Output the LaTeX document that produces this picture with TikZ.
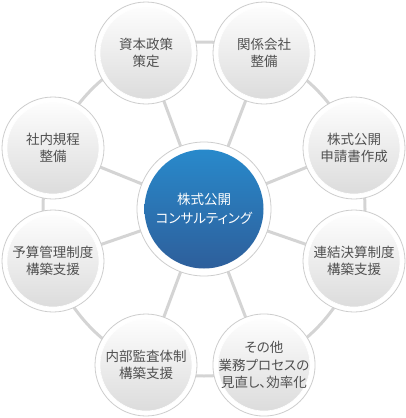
\documentclass[tikz,border=0pt]{standalone}
\usepackage{fontspec}
\setmainfont[RawFeature=+palt]{Noto Sans CJK JP}
\usetikzlibrary{backgrounds}
\definecolor{linegray}{RGB}{212,212,212}
\definecolor{ringgray}{RGB}{205,205,205}
\definecolor{discgray}{RGB}{218,218,218}
\definecolor{textgray}{RGB}{80,80,80}
\definecolor{blueTop}{RGB}{40,140,206}
\definecolor{blueBot}{RGB}{46,92,152}
\tikzset{
  outer/.style={circle, minimum size=102pt, inner sep=0pt, fill=white,
    draw=ringgray, line width=0.8pt, text=textgray, align=center,
    font=\fontsize{13.5}{17.5}\selectfont,
    path picture={\shade[top color=white, bottom color=discgray]
      (path picture bounding box.center) circle (46pt);
      \draw[white, line width=0.6pt] (path picture bounding box.center) circle (46pt);}},
  hub/.style={circle, minimum size=134pt, inner sep=0pt, fill=white,
    draw=ringgray, line width=0.8pt, text=white, align=center,
    font=\fontsize{13.5}{19}\selectfont,
    path picture={\shade[top color=blueTop, bottom color=blueBot]
      (path picture bounding box.center) circle (59.5pt);}},
  conn/.style={draw=linegray, line width=3pt}
}
\begin{document}
\begin{tikzpicture}[x=1pt,y=-1pt]
\useasboundingbox (0,0) rectangle (406,418);
\node[hub] (c) at (204,209) {株式公開\\コンサルティング};
\node[outer] (n1) at (146,53) {資本政策\\策定};
\node[outer] (n2) at (264,53) {関係会社\\整備};
\node[outer] (n3) at (354,148) {株式公開\\申請書作成};
\node[outer] (n4) at (354,261) {連結決算制度\\構築支援};
\node[outer] (n5) at (264,365) {その他\\業務プロセスの\\見直し、効率化};
\node[outer] (n6) at (146,365) {内部監査体制\\構築支援};
\node[outer] (n7) at (53,261) {予算管理制度\\構築支援};
\node[outer] (n8) at (53,148) {社内規程\\整備};
\begin{scope}[on background layer]
  \draw[conn] (c.center) ellipse [x radius=161pt, y radius=167pt];
  \foreach \n in {n1,n2,n3,n4,n5,n6,n7,n8}
    \draw[conn] (c.center) -- (\n.center);
\end{scope}
\end{tikzpicture}
\end{document}
